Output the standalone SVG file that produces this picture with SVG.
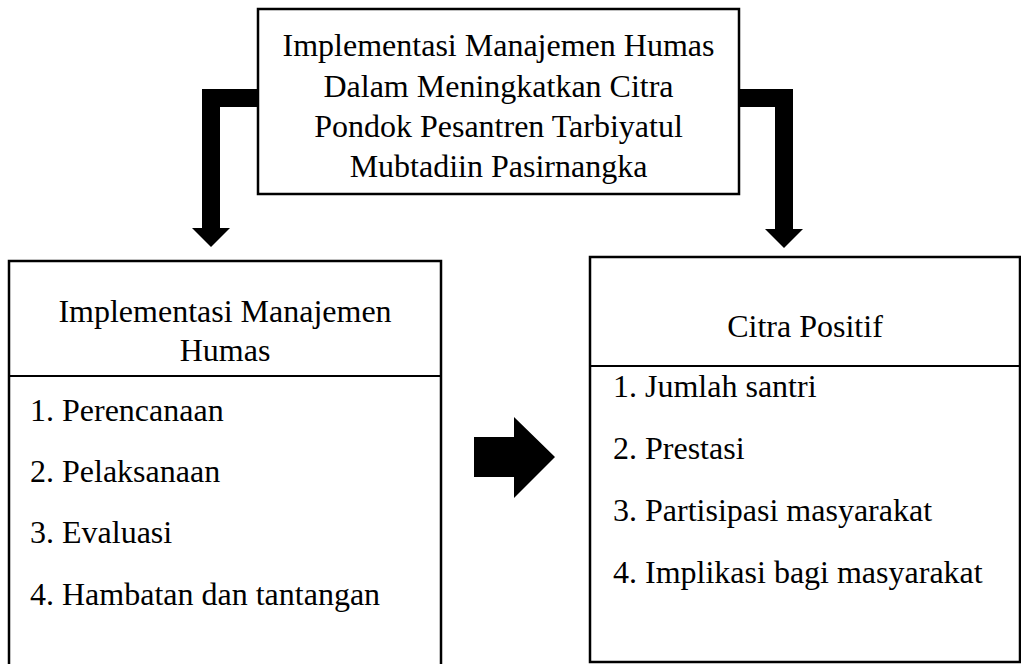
<svg xmlns="http://www.w3.org/2000/svg" width="1021" height="664" viewBox="0 0 1021 664">
<style>
  .box { fill: #ffffff; stroke: #000000; stroke-width: 2.5; }
  .div { stroke: #000000; stroke-width: 2; fill: none; }
  text { font-family: 'Liberation Serif', 'Times New Roman', 'DejaVu Serif', serif; font-size: 32px; fill: #000000; }
  .c { text-anchor: middle; }
  .arrow { fill: #000000; stroke: none; }
</style>
<rect width="1021" height="664" fill="#ffffff"/>
<g id="connectors">
  <path class="arrow" d="M258,89 L202,89 L202,228 L192,228 L211,247 L230,228 L220,228 L220,107 L258,107 Z"/>
  <path class="arrow" d="M739,89 L793,89 L793,229 L803,229 L784,248 L765,229 L775,229 L775,107 L739,107 Z"/>
  <path class="arrow" d="M474,437 L514,437 L514,417 L555,457 L514,498 L514,477 L474,477 Z"/>
</g>
<g id="top" font-family="Liberation Serif, serif">
  <rect class="box" x="258" y="9" width="481" height="185"/>
  <text class="c" x="498.5" y="56">Implementasi Manajemen Humas</text>
  <text class="c" x="498.5" y="97">Dalam Meningkatkan Citra</text>
  <text class="c" x="498.5" y="137">Pondok Pesantren Tarbiyatul</text>
  <text class="c" x="498.5" y="177">Mubtadiin Pasirnangka</text>
</g>
<g id="left" font-family="Liberation Serif, serif">
  <rect class="box" x="9" y="261" width="432" height="420"/>
  <line class="div" x1="9" y1="376" x2="441" y2="376"/>
  <text class="c" x="225" y="322">Implementasi Manajemen</text>
  <text class="c" x="225" y="361">Humas</text>
  <text x="30" y="421">1. Perencanaan</text>
  <text x="30" y="482">2. Pelaksanaan</text>
  <text x="30" y="543">3. Evaluasi</text>
  <text x="30" y="605">4. Hambatan dan tantangan</text>
</g>
<g id="right" font-family="Liberation Serif, serif">
  <rect class="box" x="590" y="257" width="430" height="405"/>
  <line class="div" x1="590" y1="366" x2="1020" y2="366"/>
  <text class="c" x="805" y="337">Citra Positif</text>
  <text x="613" y="397">1. Jumlah santri</text>
  <text x="613" y="459">2. Prestasi</text>
  <text x="613" y="521">3. Partisipasi masyarakat</text>
  <text x="613" y="583">4. Implikasi bagi masyarakat</text>
</g>
</svg>
